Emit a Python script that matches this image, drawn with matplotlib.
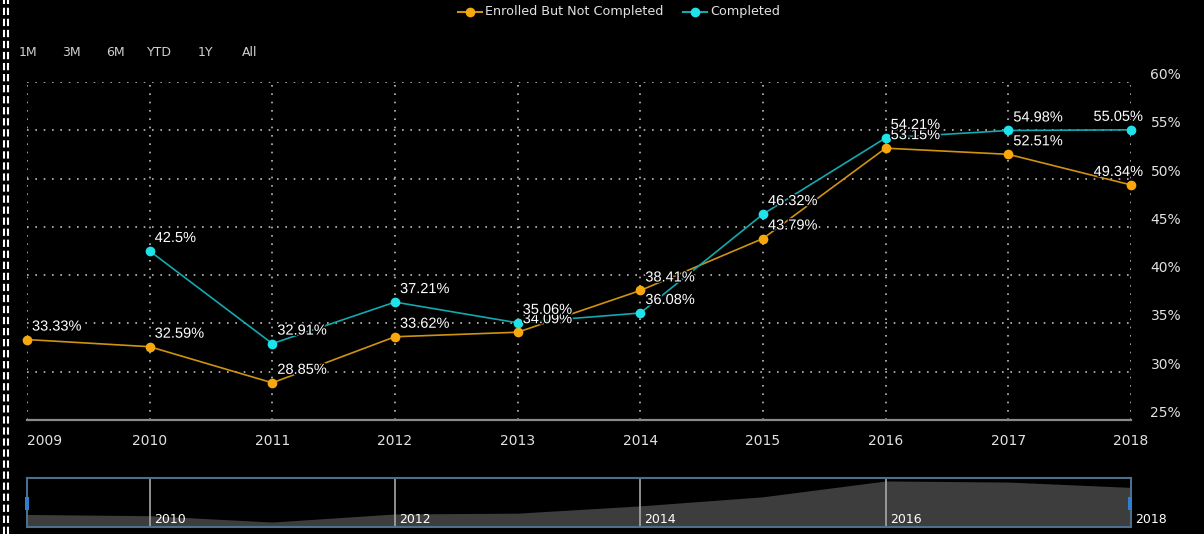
import matplotlib
matplotlib.use("Agg")
import matplotlib.pyplot as plt
import matplotlib.patheffects as pe
from matplotlib.lines import Line2D
from matplotlib.patches import Rectangle
import numpy as np

# data
years = [2009, 2010, 2011, 2012, 2013, 2014, 2015, 2016, 2017, 2018]
enrolled = [33.33, 32.59, 28.85, 33.62, 34.09, 38.41, 43.79, 53.15, 52.51, 49.34]
completed = [np.nan, 42.5, 32.91, 37.21, 35.06, 36.08, 46.32, 54.21, 54.98, 55.05]
y_ticks = [25, 30, 35, 40, 45, 50, 55, 60]
nav_years = [2010, 2012, 2014, 2016, 2018]
range_buttons = ["1M", "3M", "6M", "YTD", "1Y", "All"]

W, H = 1204, 534
ORANGE_PT, ORANGE_LN = "#f7a80f", "#d0930f"
CYAN_PT, CYAN_LN = "#1ee3ea", "#12a9af"
GRID = "#bdbdbd"
TXT = "#e2e2e2"


def fx(px):
    return px / W


def fy(py):
    return 1 - py / H


fig = plt.figure(figsize=(W / 100, H / 100), dpi=100, facecolor="black")

# main plot area: x 27..1131, y 82..420 (pixels)
ax = fig.add_axes([fx(27), fy(420), fx(1131 - 27), (420 - 82) / H])
ax.set_facecolor("black")
ax.set_xlim(years[0], years[-1])
ax.set_ylim(25, 60)
for s in ax.spines.values():
    s.set_visible(False)

for yv in y_ticks[1:]:
    ax.axhline(yv, color=GRID, lw=1.2, ls=(0, (1, 4)), zorder=1)
for xv in years:
    ax.axvline(xv, color=GRID, lw=1.2, ls=(0, (1, 4)), zorder=1)
ax.axhline(25, color="#8a8a8a", lw=1.6, zorder=1, clip_on=False)

ax.yaxis.tick_right()
ax.set_yticks(y_ticks)
ax.set_yticklabels([f"{v}%" for v in y_ticks])
ax.tick_params(axis="y", length=0, pad=14, labelsize=10, labelcolor=TXT)
for lbl in ax.get_yticklabels():
    lbl.set_va("bottom")

ax.set_xticks(years)
ax.set_xticklabels([str(y) for y in years])
ax.tick_params(axis="x", length=0, pad=10, labelsize=10, labelcolor=TXT)
ax.get_xticklabels()[0].set_ha("left")

ax.plot(years, enrolled, color=ORANGE_LN, lw=1.2, zorder=3, clip_on=False)
ax.plot(years, enrolled, "o", color=ORANGE_PT, ms=7, mew=0, zorder=4, clip_on=False)
ax.plot(years, completed, color=CYAN_LN, lw=1.2, zorder=3, clip_on=False)
ax.plot(years, completed, "o", color=CYAN_PT, ms=7, mew=0, zorder=4, clip_on=False)

outline = [pe.withStroke(linewidth=2, foreground="black")]
for series in (enrolled, completed):
    for x, v in zip(years, series):
        if np.isnan(v):
            continue
        last = x == years[-1]
        ax.annotate(f"{v:g}%", (x, v), xytext=(12 if last else 5, 9),
                    textcoords="offset pixels", ha="right" if last else "left",
                    va="baseline", fontsize=10.5, family="Liberation Sans",
                    color="white", path_effects=outline, zorder=6,
                    annotation_clip=False)

# legend (top centre)
for x0, col_ln, col_pt, label in [(458, ORANGE_LN, ORANGE_PT, "Enrolled But Not Completed"),
                                  (683, CYAN_LN, CYAN_PT, "Completed")]:
    fig.add_artist(Line2D([fx(x0), fx(x0 + 24)], [fy(12), fy(12)], color=col_ln, lw=1.5))
    fig.add_artist(Line2D([fx(x0 + 12)], [fy(12)], marker="o", color=col_pt, ms=7, mew=0))
    fig.text(fx(x0 + 27), fy(12), label, color=TXT, fontsize=9.2, ha="left", va="center")

# range selector
for x0, b in zip([19, 62, 106, 147, 198, 242], range_buttons):
    fig.text(fx(x0), fy(52), b, color="#d0d0d0", fontsize=9, ha="left", va="center")

# navigator: x 27..1131, y 478..527
nav = fig.add_axes([fx(27), fy(527), fx(1131 - 27), (527 - 478) / H])
nav.set_facecolor("black")
nav.set_xlim(years[0], years[-1])
nav.set_ylim(25.9, 54.9)
nav.fill_between(years, 25.9, enrolled, color="#3d3d3d", lw=0, zorder=1)
for s in nav.spines.values():
    s.set_color("#4b6f8d")
    s.set_linewidth(1.5)
nav.set_xticks([])
nav.set_yticks([])
for yr in nav_years[:-1]:
    nav.axvline(yr, color="#a8a8a8", lw=1.2, zorder=2)
for yr in nav_years:
    nav.annotate(str(yr), (yr, 25.9), xytext=(4, 1), textcoords="offset pixels",
                 ha="left", va="bottom", fontsize=9, color="white", annotation_clip=False)

# navigator handles
for hx in (25, 1128):
    fig.add_artist(Rectangle((fx(hx), fy(510)), fx(4), 13 / H, color="#2f7fd0", lw=0))

# dashed double line at left edge
for lx in (3.5, 7.5):
    fig.add_artist(Line2D([fx(lx), fx(lx)], [0, 1], color="white", lw=1.5, ls=(0, (3.5, 1.8))))

fig.savefig("out.png", dpi=100, facecolor="black")
